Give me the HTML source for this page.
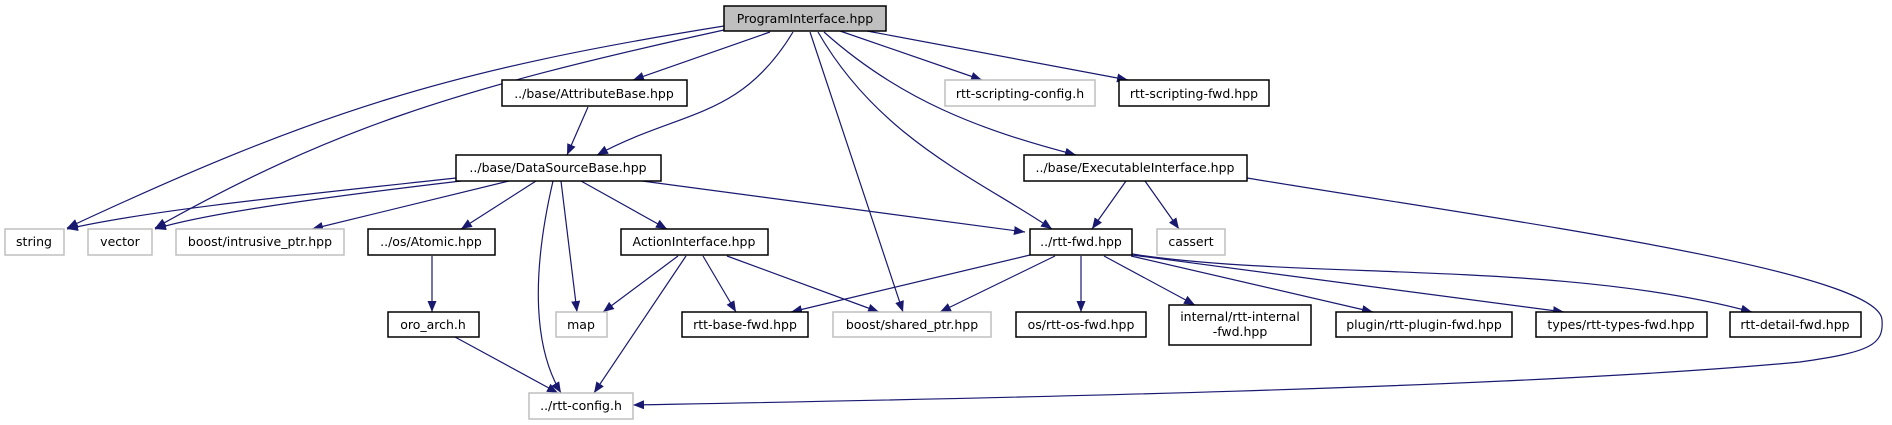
<!DOCTYPE html>
<html><head><meta charset="utf-8"><style>
html,body{margin:0;padding:0;background:#fff;width:1892px;height:425px;overflow:hidden}
svg text{font-family:"DejaVu Sans","Liberation Sans",sans-serif;font-size:12.5px;fill:#000}
</style></head><body>
<svg width="1892" height="425" viewBox="0 0 1892 425" xmlns="http://www.w3.org/2000/svg">
<defs><marker id="a" markerUnits="userSpaceOnUse" markerWidth="12" markerHeight="10" refX="11" refY="4.5" orient="auto"><path d="M0,0 L11,4.5 L0,9 Z" fill="#191970"/></marker></defs>
<g fill="none" stroke="#191970" stroke-width="1.2" marker-end="url(#a)">
<path d="M724,26 C450,70 320,110 67,228"/>
<path d="M724,30 C450,90 330,130 155,228"/>
<path d="M770,32 L633,80"/>
<path d="M793,32 C740,120 680,110 597,155"/>
<path d="M810,32 L903,312"/>
<path d="M818,32 C880,140 980,180 1052,229"/>
<path d="M824,32 C900,100 980,130 1076,155"/>
<path d="M840,31 L982,80"/>
<path d="M867,31 L1128,80"/>
<path d="M588,107 L567,155"/>
<path d="M456,178 C300,195 150,210 67,229"/>
<path d="M461,181 C300,200 200,215 155,229"/>
<path d="M509,181 L312,229"/>
<path d="M536,181 L461,229"/>
<path d="M553,181 C530,280 535,350 561,393"/>
<path d="M561,181 L577,312"/>
<path d="M581,181 L667,229"/>
<path d="M642,181 L1025,232"/>
<path d="M432,256 L432,312"/>
<path d="M455,337 L558,393"/>
<path d="M678,256 L603,312"/>
<path d="M686,256 L594,393"/>
<path d="M703,256 L736,312"/>
<path d="M727,256 L879,312"/>
<path d="M1126,181 L1092,229"/>
<path d="M1145,181 L1179,229"/>
<path d="M1247,178 C1500,220 1880,270 1882,320 C1884,345 1870,352 1800,362 C1500,390 900,400 633,405"/>
<path d="M1030,255 L791,312"/>
<path d="M1055,256 L940,312"/>
<path d="M1081,256 L1081,312"/>
<path d="M1104,256 L1195,305"/>
<path d="M1131,256 L1373,312"/>
<path d="M1132,255 L1564,312"/>
<path d="M1132,254 C1300,280 1560,260 1752,312"/>
</g>
<g stroke-width="1.5">
<rect x="724" y="6" width="162" height="25" fill="#bfbfbf" stroke="#000"/>
<rect x="502" y="80" width="185" height="26" fill="#fff" stroke="#000"/>
<rect x="945" y="80" width="150" height="26" fill="#fff" stroke="#bfbfbf"/>
<rect x="1119" y="80" width="150" height="26" fill="#fff" stroke="#000"/>
<rect x="456" y="155" width="205" height="26" fill="#fff" stroke="#000"/>
<rect x="1024" y="155" width="223" height="26" fill="#fff" stroke="#000"/>
<rect x="5" y="229" width="59" height="26" fill="#fff" stroke="#bfbfbf"/>
<rect x="88" y="229" width="64" height="26" fill="#fff" stroke="#bfbfbf"/>
<rect x="176" y="229" width="168" height="26" fill="#fff" stroke="#bfbfbf"/>
<rect x="368" y="229" width="127" height="26" fill="#fff" stroke="#000"/>
<rect x="621" y="229" width="147" height="26" fill="#fff" stroke="#000"/>
<rect x="1030" y="229" width="102" height="26" fill="#fff" stroke="#000"/>
<rect x="1157" y="229" width="68" height="26" fill="#fff" stroke="#bfbfbf"/>
<rect x="388" y="312" width="91" height="25" fill="#fff" stroke="#000"/>
<rect x="556" y="312" width="51" height="25" fill="#fff" stroke="#bfbfbf"/>
<rect x="682" y="312" width="126" height="25" fill="#fff" stroke="#000"/>
<rect x="833" y="312" width="158" height="25" fill="#fff" stroke="#bfbfbf"/>
<rect x="1016" y="312" width="130" height="25" fill="#fff" stroke="#000"/>
<rect x="1169" y="305" width="142" height="40" fill="#fff" stroke="#000"/>
<rect x="1336" y="312" width="176" height="25" fill="#fff" stroke="#000"/>
<rect x="1536" y="312" width="171" height="25" fill="#fff" stroke="#000"/>
<rect x="1730" y="312" width="131" height="25" fill="#fff" stroke="#000"/>
<rect x="529" y="393" width="104" height="26" fill="#fff" stroke="#bfbfbf"/>
</g>
<g text-anchor="middle">
<text x="805" y="23">ProgramInterface.hpp</text>
<text x="594" y="98">../base/AttributeBase.hpp</text>
<text x="1020" y="98">rtt-scripting-config.h</text>
<text x="1194" y="98">rtt-scripting-fwd.hpp</text>
<text x="558" y="172">../base/DataSourceBase.hpp</text>
<text x="1135" y="172">../base/ExecutableInterface.hpp</text>
<text x="34" y="246">string</text>
<text x="120" y="246">vector</text>
<text x="260" y="246">boost/intrusive_ptr.hpp</text>
<text x="431" y="246">../os/Atomic.hpp</text>
<text x="694" y="246">ActionInterface.hpp</text>
<text x="1081" y="246">../rtt-fwd.hpp</text>
<text x="1191" y="246">cassert</text>
<text x="433" y="329">oro_arch.h</text>
<text x="581" y="329">map</text>
<text x="745" y="329">rtt-base-fwd.hpp</text>
<text x="912" y="329">boost/shared_ptr.hpp</text>
<text x="1081" y="329">os/rtt-os-fwd.hpp</text>
<text x="1240" y="321">internal/rtt-internal</text>
<text x="1240" y="336">-fwd.hpp</text>
<text x="1424" y="329">plugin/rtt-plugin-fwd.hpp</text>
<text x="1621" y="329">types/rtt-types-fwd.hpp</text>
<text x="1795" y="329">rtt-detail-fwd.hpp</text>
<text x="581" y="410">../rtt-config.h</text>
</g>
</svg>
</body></html>
